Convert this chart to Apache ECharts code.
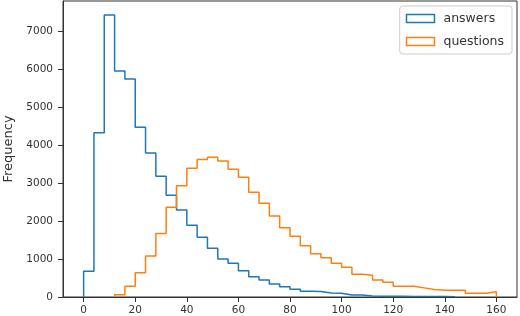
<!DOCTYPE html>
<html><head><meta charset="utf-8">
<script src="https://cdn.jsdelivr.net/npm/echarts@6/dist/echarts.min.js"></script>
<style>html,body{margin:0;padding:0;background:#fff}#c{width:520px;height:316px}</style>
</head><body><div id="c"></div>
<script>
// Histogram bins: 40 bins of width 4 starting at 0
const binStart = 0;
const binWidth = 4;
const answers = [680, 4320, 7420, 5950, 5740, 4470, 3790, 3180, 2680, 2290,
                 1890, 1570, 1280, 1000, 890, 690, 535, 450, 345, 272,
                 203, 150, 145, 105, 97, 55, 50, 25, 22, 20,
                 18, 15, 14, 12, 10, 8, 0, 0, 0, 0];
const questions = [0, 0, 0, 60, 280, 640, 1080, 1670, 2360, 2930,
                   3390, 3620, 3680, 3580, 3360, 3150, 2760, 2470, 2135, 1820,
                   1600, 1350, 1140, 1035, 890, 780, 600, 570, 450, 390,
                   280, 280, 240, 195, 180, 180, 180, 97, 97, 140];
const xTicks = [0, 20, 40, 60, 80, 100, 120, 140, 160];
const yTicks = [0, 1000, 2000, 3000, 4000, 5000, 6000, 7000];

function stepPoints(counts) {
  const first = counts.findIndex(v => v > 0);
  let last = counts.length - 1;
  while (last >= 0 && counts[last] === 0) last--;
  const pts = [[binStart + first * binWidth, 0]];
  for (let i = first; i <= last; i++) pts.push([binStart + i * binWidth, counts[i]]);
  pts.push([binStart + (last + 1) * binWidth, counts[last]]);
  pts.push([binStart + (last + 1) * binWidth, 0]);
  return pts;
}

const font = 'DejaVu Sans';
const axisColor = '#333';
const chart = echarts.init(document.getElementById('c'), null, {renderer: 'canvas'});
chart.setOption({
  animation: false,
  grid: {left: 63, right: 3, top: 1, bottom: 19, show: true, borderColor: axisColor, borderWidth: 1,
         backgroundColor: 'transparent', containLabel: false, outerBoundsMode: 'none'},
  legend: {
    orient: 'vertical', right: 8, top: 6,
    itemWidth: 28, itemHeight: 8, itemGap: 10,
    padding: [6, 8, 6, 6],
    borderColor: '#ccc', borderWidth: 1, borderRadius: 3, backgroundColor: 'rgba(255,255,255,0.8)',
    textStyle: {fontFamily: font, fontSize: 12.5, color: '#333', lineHeight: 12.5, padding: [0, 0, 0, 4]},
    data: [
      {name: 'answers', icon: 'rect', itemStyle: {color: '#fff', borderColor: '#1f77b4', borderWidth: 1.5}},
      {name: 'questions', icon: 'rect', itemStyle: {color: '#fff', borderColor: '#ff7f0e', borderWidth: 1.5}}
    ]
  },
  xAxis: {
    type: 'value', min: -8, max: 168, z: 5,
    axisLine: {show: true, onZero: false, lineStyle: {color: axisColor, width: 1}},
    axisTick: {show: true, length: 5, customValues: xTicks, lineStyle: {color: axisColor}},
    axisLabel: {customValues: xTicks, color: '#333', fontSize: 10.5, fontFamily: font, margin: 8},
    splitLine: {show: false}
  },
  yAxis: {
    type: 'value', min: 0, max: 7790, z: 5,
    name: 'Frequency', nameLocation: 'middle', nameGap: 48,
    nameTextStyle: {fontFamily: font, fontSize: 13, color: '#333'},
    axisLine: {show: true, onZero: false, lineStyle: {color: axisColor, width: 1}},
    axisTick: {show: true, length: 5, customValues: yTicks, lineStyle: {color: axisColor}},
    axisLabel: {customValues: yTicks, color: '#333', fontSize: 10.5, fontFamily: font, margin: 10,
                formatter: v => String(v)},
    splitLine: {show: false}
  },
  series: [
    {name: 'answers', type: 'line', step: 'end', symbol: 'none', data: stepPoints(answers),
     lineStyle: {color: '#1f77b4', width: 1.5}, itemStyle: {color: '#1f77b4'}},
    {name: 'questions', type: 'line', step: 'end', symbol: 'none', data: stepPoints(questions),
     lineStyle: {color: '#ff7f0e', width: 1.5}, itemStyle: {color: '#ff7f0e'}}
  ]
});
</script>
</body></html>
